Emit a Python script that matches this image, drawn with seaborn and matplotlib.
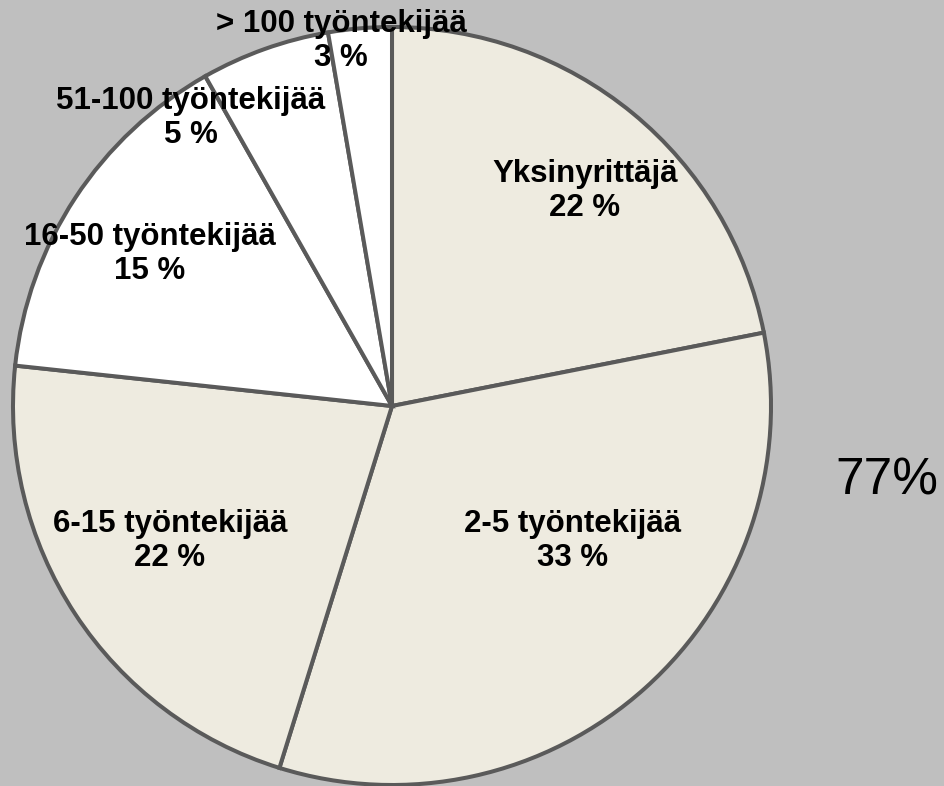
import matplotlib
matplotlib.use("Agg")
import matplotlib.pyplot as plt
import seaborn as sns

sns.set_theme(style="white")
plt.rcParams['font.family'] = ['Liberation Sans', 'DejaVu Sans']

categories = ["Yksinyrittäjä", "2-5 työntekijää", "6-15 työntekijää",
              "16-50 työntekijää", "51-100 työntekijää", "> 100 työntekijää"]
# wedge sizes as read from the slice boundaries
shares = [21.9, 32.9, 21.9, 15.1, 5.5, 2.7]
# percentages as printed on the chart
share_labels = ["22 %", "33 %", "22 %", "15 %", "5 %", "3 %"]
side_note = "77%"

beige = "#EEEBE0"
colors = [beige, beige, beige, "white", "white", "white"]

# label centres in pixels (x from left, y from top)
label_px = [(585, 191), (573, 541), (170, 541), (150, 254), (191, 118), (341, 41)]

W, H = 945, 786
cx, cy, r = 392, 406, 379

fig = plt.figure(figsize=(W / 100, H / 100), dpi=100, facecolor="#BFBFBF")
ax = fig.add_axes([0, 0, 1, 1])
ax.set_facecolor("#BFBFBF")

ax.pie(shares, colors=colors, startangle=90, counterclock=False, radius=1,
       wedgeprops=dict(edgecolor="#5A5A5A", linewidth=2.9))

ax.set_xlim(-cx / r, (W - cx) / r)
ax.set_ylim(-(H - cy) / r, cy / r)
ax.set_aspect("auto")
ax.axis("off")

for name, lab, (px, py) in zip(categories, share_labels, label_px):
    ax.text((px - cx) / r, (cy - py) / r, f"{name}\n{lab}", ha="center", va="center",
            fontsize=22.5, fontweight="bold", color="black", linespacing=1.2)

fig.text(887 / W, 1 - 481 / H, side_note, ha="center", va="center", fontsize=37, color="black")

fig.savefig("out.png", dpi=100, facecolor=fig.get_facecolor())
